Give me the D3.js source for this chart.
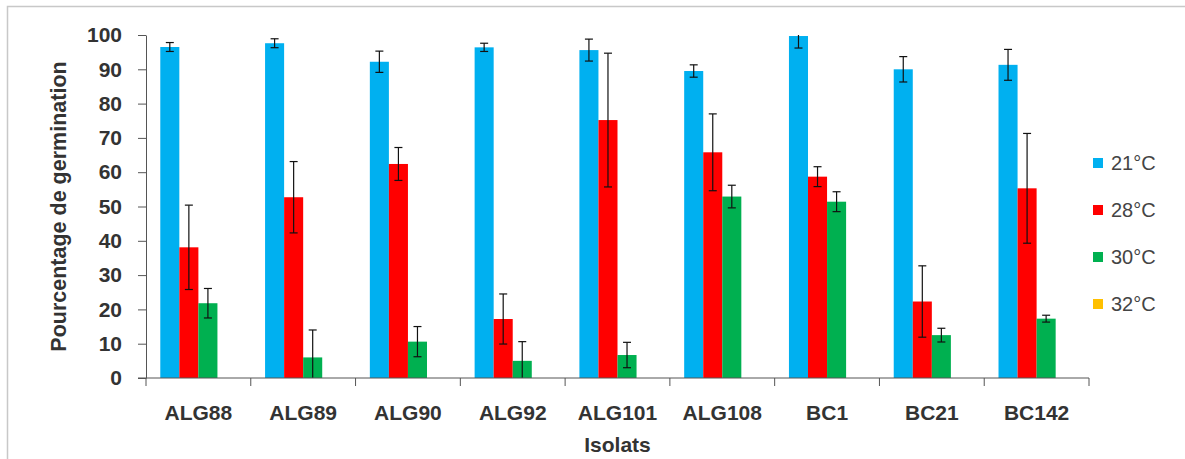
<!DOCTYPE html>
<html>
<head>
<meta charset="utf-8">
<script src="https://cdn.jsdelivr.net/npm/d3@7/dist/d3.min.js"></script>
<style>
  html, body { margin: 0; padding: 0; background: #fff; }
  svg { display: block; }
  text { font-family: "Liberation Sans", Arial, sans-serif; }
</style>
</head>
<body>
<svg id="chart" width="1185" height="459"></svg>
<script>
const categories = ["ALG88","ALG89","ALG90","ALG92","ALG101","ALG108","BC1","BC21","BC142"];
const seriesNames = ["21°C","28°C","30°C","32°C"];
const seriesColors = ["#00B0F0","#FF0000","#00B050","#FFC000"];
const values21 = [96.5, 97.6, 92.2, 96.4, 95.6, 89.5, 99.7, 90.0, 91.3];
const err21    = [1.3, 1.3, 3.1, 1.2, 3.2, 1.8, 3.5, 3.7, 4.5];
const values28 = [38.1, 52.7, 62.4, 17.2, 75.2, 65.8, 58.7, 22.3, 55.3];
const err28    = [12.3, 10.4, 4.8, 7.3, 19.5, 11.2, 2.9, 10.4, 16.0];
const values30 = [21.8, 6.0, 10.6, 5.0, 6.7, 52.9, 51.4, 12.5, 17.3];
const err30    = [4.3, 8.0, 4.4, 5.6, 3.7, 3.3, 2.9, 2.0, 1.0];
const values32 = [0, 0, 0, 0, 0, 0, 0, 0, 0];
const err32    = [0, 0, 0, 0, 0, 0, 0, 0, 0];
const yTicks = [0,10,20,30,40,50,60,70,80,90,100];
const yTitle = "Pourcentage de germination";
const xTitle = "Isolats";

(function () {
const allValues = [values21, values28, values30, values32];
const allErrs = [err21, err28, err30, err32];

const svg = d3.select("#chart");
const pLeft = 146, pRight = 1089, pTop = 35, pBottom = 378;
const textColor = "#333333";
const axisColor = "#555555";

// frame
svg.append("rect").attr("x", 7.5).attr("y", 6.5).attr("width", 1190).attr("height", 470)
  .attr("fill", "none").attr("stroke", "#c8c8c8").attr("stroke-width", 1.5);

const x = d3.scaleBand().domain(categories).range([pLeft, pRight]).paddingInner(0).paddingOuter(0);
const xs = d3.scaleBand().domain(seriesNames).range([0, x.bandwidth()]).paddingInner(0).paddingOuter(0.75);
const y = d3.scaleLinear().domain([0, 100]).range([pBottom, pTop]);

const rows = [];
categories.forEach((c, i) => {
  seriesNames.forEach((s, j) => {
    rows.push({cat: c, ser: s, color: seriesColors[j], v: allValues[j][i], e: allErrs[j][i]});
  });
});

// bars
svg.append("g").selectAll("rect").data(rows).join("rect")
  .attr("x", d => x(d.cat) + xs(d.ser))
  .attr("width", xs.bandwidth())
  .attr("y", d => y(d.v))
  .attr("height", d => y(0) - y(d.v))
  .attr("fill", d => d.color);

// error bars
const eb = svg.append("g").attr("stroke", "#111").attr("stroke-width", 1.2);
rows.filter(d => d.e > 0).forEach(d => {
  const cx = x(d.cat) + xs(d.ser) + xs.bandwidth() / 2;
  const hi = Math.min(100, d.v + d.e), lo = Math.max(0, d.v - d.e);
  eb.append("line").attr("x1", cx).attr("x2", cx).attr("y1", y(hi)).attr("y2", y(lo));
  if (d.v + d.e <= 100) eb.append("line").attr("x1", cx - 4).attr("x2", cx + 4).attr("y1", y(hi)).attr("y2", y(hi));
  if (d.v - d.e >= 0) eb.append("line").attr("x1", cx - 4).attr("x2", cx + 4).attr("y1", y(lo)).attr("y2", y(lo));
});

// y axis
const yAxis = svg.append("g").attr("transform", `translate(${pLeft},0)`)
  .call(d3.axisLeft(y).tickValues(yTicks).tickSize(8).tickSizeOuter(0).tickPadding(16));
yAxis.select(".domain").attr("stroke", axisColor);
yAxis.selectAll(".tick line").attr("stroke", axisColor);
yAxis.selectAll(".tick text").attr("font-size", 21).attr("font-weight", "bold").attr("fill", textColor)
  .attr("font-family", "Liberation Sans, Arial, sans-serif");

// x axis
const xAxis = svg.append("g").attr("transform", `translate(0,${pBottom})`)
  .call(d3.axisBottom(x).tickSize(0).tickSizeOuter(0).tickPadding(27));
xAxis.select(".domain").remove();
xAxis.append("line").attr("x1", pLeft - 8).attr("x2", pRight).attr("y1", 0).attr("y2", 0).attr("stroke", axisColor);
const bounds = categories.map(c => x(c)).concat([pRight]);
xAxis.selectAll(".bound").data(bounds).join("line").attr("class", "bound")
  .attr("x1", d => d).attr("x2", d => d).attr("y1", 0).attr("y2", 8).attr("stroke", axisColor);
xAxis.selectAll(".tick text").attr("font-size", 21).attr("font-weight", "bold").attr("fill", textColor)
  .attr("font-family", "Liberation Sans, Arial, sans-serif");

// axis titles
svg.append("text").attr("x", (pLeft + pRight) / 2).attr("y", 452).attr("text-anchor", "middle")
  .attr("font-size", 21).attr("font-weight", "bold").attr("fill", textColor).text(xTitle);
svg.append("text").attr("transform", `translate(66,${(pTop + pBottom) / 2}) rotate(-90)`)
  .attr("text-anchor", "middle").attr("font-size", 21.5).attr("font-weight", "bold").attr("fill", textColor).text(yTitle);

// legend
const leg = svg.append("g");
seriesNames.forEach((s, j) => {
  const cy = 163 + j * 47;
  leg.append("rect").attr("x", 1093).attr("y", cy - 5).attr("width", 10).attr("height", 10).attr("fill", seriesColors[j]);
  leg.append("text").attr("x", 1111).attr("y", cy).attr("dy", "0.35em").attr("font-size", 20)
    .attr("fill", "#444").text(s);
});
})();
</script>
</body>
</html>
